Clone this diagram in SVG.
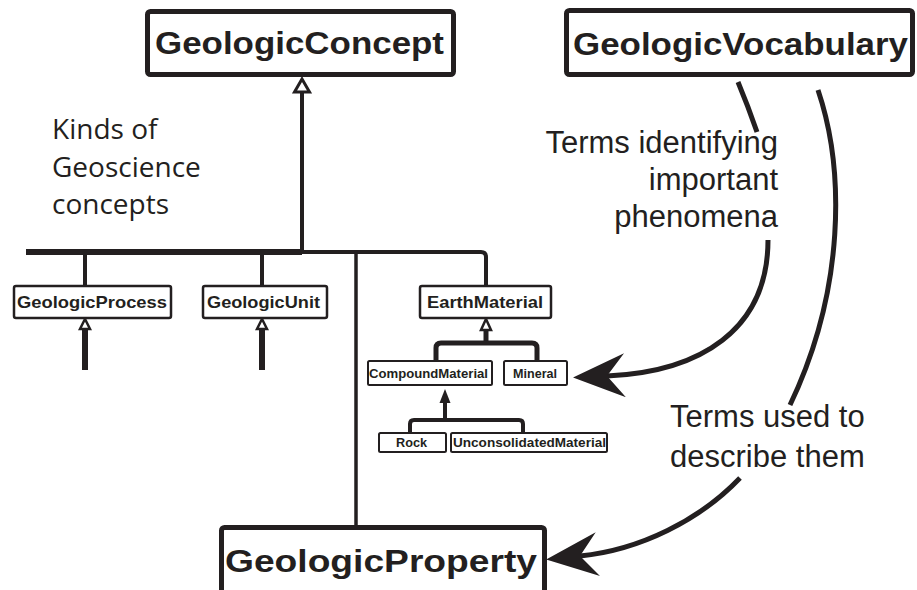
<svg xmlns="http://www.w3.org/2000/svg" width="917" height="590" viewBox="0 0 917 590">
<style>
.big{fill:#fff;stroke:#231f20;stroke-width:5}
.small{fill:#fff;stroke:#231f20;stroke-width:2.5}
.tiny{fill:#fff;stroke:#231f20;stroke-width:2}
.bt{font-family:"Liberation Sans",Arial,sans-serif;font-weight:bold;fill:#231f20}
.lbl{font-family:"Liberation Sans",Arial,sans-serif;fill:#231f20;font-size:31px}
.kind{font-family:"Open Sans","Noto Sans",sans-serif;fill:#231f20;font-size:28px}
.ln{fill:none;stroke:#231f20;stroke-linecap:butt}
.hollow{fill:#fff;stroke:#231f20;stroke-linejoin:miter}
.solid{fill:#231f20;stroke:none}
</style>
<defs>
<marker id="bigArrow" viewBox="0 0 52 44" refX="18" refY="22" markerWidth="52" markerHeight="44" markerUnits="userSpaceOnUse" orient="auto">
<path d="M52,22 L0,0 L18,22 L0,44 Z" fill="#231f20"/>
</marker>
</defs>
<rect width="917" height="590" fill="#fff"/>

<g id="connectors">
<path class="ln" d="M26,252 H302" stroke-width="6"/>
<path class="ln" d="M302,252 H481 Q486,252 486,257 V286" stroke-width="4"/>
<path class="ln" d="M302,252 V90" stroke-width="4"/>
<polygon class="hollow" points="302,79 294.5,92 309.5,92" stroke-width="3"/>
<path class="ln" d="M85,252 V286" stroke-width="4"/>
<path class="ln" d="M262,252 V286" stroke-width="4"/>
<path class="ln" d="M85,370 V328" stroke-width="6"/>
<polygon class="hollow" points="85,319 80,329 90,329" stroke-width="2.5"/>
<path class="ln" d="M262,370 V328" stroke-width="6"/>
<polygon class="hollow" points="262,319 257,329 267,329" stroke-width="2.5"/>
<path class="ln" d="M356,252 V527" stroke-width="3.5"/>
<path class="ln" d="M486,343 V330" stroke-width="5"/>
<polygon class="hollow" points="486,319 481,330 491,330" stroke-width="2.5"/>
<path class="ln" d="M436,361 V348 Q436,343 441,343 H532 Q537,343 537,348 V361" stroke-width="5"/>
<path class="ln" d="M445,420 V402" stroke-width="4"/>
<polygon class="solid" points="445,389 439.5,403 450.5,403"/>
<path class="ln" d="M410,433 V424 Q410,420 414,420 H519 Q523,420 523,424 V433" stroke-width="4"/>
<path class="ln" d="M738,82 Q748,106 757,132" stroke-width="5"/>
<path class="ln" d="M768,240 C768,330 700,372 607,376" stroke-width="5" marker-end="url(#bigArrow)"/>
<path class="ln" d="M818,90 C845,170 845,290 790,405" stroke-width="5"/>
<path class="ln" d="M740,478 C700,520 640,550 580,556" stroke-width="5" marker-end="url(#bigArrow)"/>
</g>

<g id="GeologicConcept">
<rect class="big" x="147.5" y="11.5" width="306" height="63" rx="3"/>
<text class="bt" x="155" y="54" font-size="32" textLength="289" lengthAdjust="spacingAndGlyphs">GeologicConcept</text>
</g>
<g id="GeologicVocabulary">
<rect class="big" x="566.5" y="10.5" width="346" height="64" rx="3"/>
<text class="bt" x="573" y="55" font-size="32" textLength="335" lengthAdjust="spacingAndGlyphs">GeologicVocabulary</text>
</g>
<g id="GeologicProperty">
<rect class="big" x="221.5" y="527.5" width="323" height="80" rx="3"/>
<text class="bt" x="225" y="572" font-size="32" textLength="312" lengthAdjust="spacingAndGlyphs">GeologicProperty</text>
</g>
<g id="GeologicProcess">
<rect class="small" x="14" y="286" width="157" height="32" rx="2"/>
<text class="bt" x="17" y="308" font-size="17" textLength="150" lengthAdjust="spacingAndGlyphs">GeologicProcess</text>
</g>
<g id="GeologicUnit">
<rect class="small" x="203" y="286" width="124" height="32" rx="2"/>
<text class="bt" x="207" y="308" font-size="17" textLength="113" lengthAdjust="spacingAndGlyphs">GeologicUnit</text>
</g>
<g id="EarthMaterial">
<rect class="small" x="420" y="286" width="131" height="32" rx="2" stroke-width="3"/>
<text class="bt" x="427" y="308" font-size="17" textLength="116" lengthAdjust="spacingAndGlyphs">EarthMaterial</text>
</g>
<g id="CompoundMaterial">
<rect class="tiny" x="368" y="361" width="124" height="24" rx="1.5"/>
<text class="bt" x="369" y="378" font-size="12.5" textLength="119" lengthAdjust="spacingAndGlyphs">CompoundMaterial</text>
</g>
<g id="Mineral">
<rect class="tiny" x="504" y="361" width="63" height="24" rx="1.5"/>
<text class="bt" x="513" y="378" font-size="12.5" textLength="44" lengthAdjust="spacingAndGlyphs">Mineral</text>
</g>
<g id="Rock">
<rect class="tiny" x="379" y="433" width="67" height="19" rx="1.5"/>
<text class="bt" x="396" y="447" font-size="12" textLength="31" lengthAdjust="spacingAndGlyphs">Rock</text>
</g>
<g id="UnconsolidatedMaterial">
<rect class="tiny" x="451" y="433" width="156" height="19" rx="1.5"/>
<text class="bt" x="453" y="447" font-size="12" textLength="153" lengthAdjust="spacingAndGlyphs">UnconsolidatedMaterial</text>
</g>

<g id="labels">
<text class="kind" x="52" y="139">Kinds of</text>
<text class="kind" x="52" y="177">Geoscience</text>
<text class="kind" x="52" y="214">concepts</text>
<text class="lbl" x="778" y="153" text-anchor="end">Terms identifying</text>
<text class="lbl" x="778" y="190" text-anchor="end">important</text>
<text class="lbl" x="778" y="227" text-anchor="end">phenomena</text>
<text class="lbl" x="670" y="427">Terms used to</text>
<text class="lbl" x="670" y="467">describe them</text>
</g>
</svg>
